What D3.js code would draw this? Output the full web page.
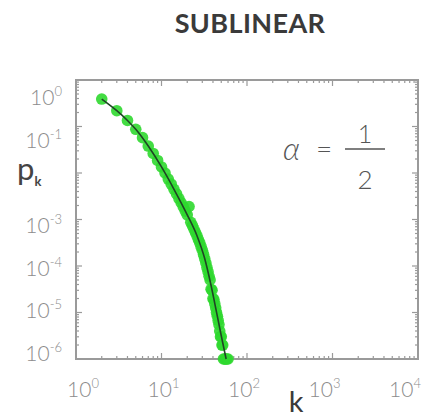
<!DOCTYPE html>
<html>
<head>
<meta charset="utf-8">
<script src="https://cdn.jsdelivr.net/npm/d3@7"></script>
<style>
  body { margin: 0; background: #fff; }
  svg text { font-family: Lato, "DejaVu Sans", sans-serif; }
</style>
</head>
<body>
<div id="chart"></div>
<script>
// degree distribution, sublinear preferential attachment (alpha = 1/2)
const degrees = [2,3,4,5,6,7,8,9,10,11,12,13,14,15,16,17,18,19,20,21,22,23,24,25,26,27,28,29,30,
  31,32,33,34,35,36,37,38,39,40,41,42,43,44,45,46,47,48,49,50,51,52,53,55,56,58,60];
const logProb = [-0.41,-0.66,-0.87,-1.06,-1.24,-1.42,-1.58,-1.73,-1.87,-2.00,-2.13,-2.24,-2.35,-2.45,-2.55,-2.64,
  -2.73,-2.82,-2.90,-2.72,-3.06,-3.13,-3.21,-3.28,-3.35,-3.43,-3.50,-3.58,-3.66,-3.75,-3.84,-3.93,-4.03,-4.12,
  -4.22,-4.30,-4.50,-4.52,-4.70,-4.72,-4.81,-4.90,-5.00,-5.08,-5.17,-5.26,-5.40,-5.52,-5.52,-5.70,-5.70,-6,-6,-6,-6,-6];

// fitted curve
const fitK = [2,3,4,5,7,10,14,20,26,32,38,44,50,57];
const fitLogP = [-0.41,-0.66,-0.87,-1.06,-1.42,-1.87,-2.35,-2.90,-3.35,-3.84,-4.42,-4.99,-5.50,-6.0];

const xDecades = [0,1,2,3,4];
const yDecades = [0,-1,-3,-4,-5,-6];

const W = 425, H = 417;
const svg = d3.select("#chart").append("svg")
  .attr("width", W)
  .attr("height", H);

const x = d3.scaleLog().domain([1, 1e4]).range([76, 418]);
const y = d3.scaleLog().domain([1e-6, 1]).range([359, 80]);
// tick labels in the original sit slightly inside the decades
const xLab = d3.scaleLog().domain([1, 1e4]).range([83, 405]);
const yLab = d3.scaleLog().domain([1e-6, 1]).range([353, 97]);

const frameColor = "#9a9a9a";

// inward ticks on all four sides
function logTicks(lo, hi) {
  let out = [];
  for (let e = lo; e < hi; e++) {
    for (let m = 1; m < 10; m++) out.push({v: m * Math.pow(10, e), major: m === 1});
  }
  out.push({v: Math.pow(10, hi), major: true});
  return out;
}
const xt = logTicks(0, 4), yt = logTicks(-6, 0);

const tickG = svg.append("g").attr("stroke", frameColor).attr("stroke-width", 1.2);
xt.forEach(t => {
  let len = t.major ? 6 : 3;
  tickG.append("line").attr("x1", x(t.v)).attr("x2", x(t.v)).attr("y1", 359).attr("y2", 359 - len);
  tickG.append("line").attr("x1", x(t.v)).attr("x2", x(t.v)).attr("y1", 80).attr("y2", 80 + len);
});
yt.forEach(t => {
  let len = t.major ? 6 : 3;
  tickG.append("line").attr("y1", y(t.v)).attr("y2", y(t.v)).attr("x1", 76).attr("x2", 76 + len);
  tickG.append("line").attr("y1", y(t.v)).attr("y2", y(t.v)).attr("x1", 418).attr("x2", 418 - len);
});

svg.append("rect")
  .attr("x", 76).attr("y", 80)
  .attr("width", 342).attr("height", 279)
  .attr("fill", "none")
  .attr("stroke", frameColor)
  .attr("stroke-width", 2);

// data points
svg.append("g").selectAll("circle")
  .data(degrees.map((k, i) => ({k: k, p: Math.pow(10, logProb[i])})))
  .join("circle")
  .attr("cx", d => x(d.k))
  .attr("cy", d => y(d.p))
  .attr("r", 5.8)
  .attr("fill", "#2fd82f")
  .attr("opacity", 0.9);

// fit line
const line = d3.line()
  .x(d => x(d.k))
  .y(d => y(d.p))
  .curve(d3.curveMonotoneX);
svg.append("path")
  .datum(fitK.map((k, i) => ({k: k, p: Math.pow(10, fitLogP[i])})))
  .attr("d", line)
  .attr("fill", "none")
  .attr("stroke", "#1f4424")
  .attr("stroke-width", 1.6);

// tick labels
const labColor = "#8c8c8c";
xDecades.forEach(e => {
  let t = svg.append("text")
    .attr("x", xLab(Math.pow(10, e)))
    .attr("y", 397)
    .attr("text-anchor", "middle")
    .attr("fill", labColor)
    .attr("font-size", 21)
    .attr("font-weight", 300);
  t.append("tspan").text("10");
  t.append("tspan").attr("dy", -9).attr("font-size", 13).text(e);
});
yDecades.forEach(e => {
  let t = svg.append("text")
    .attr("x", 62)
    .attr("y", yLab(Math.pow(10, e)) + 8)
    .attr("text-anchor", "end")
    .attr("fill", labColor)
    .attr("font-size", 21)
    .attr("font-weight", 300);
  t.append("tspan").text("10");
  t.append("tspan").attr("dy", -9).attr("font-size", 13).text(e === 0 ? "0" : "-" + Math.abs(e));
});

// axis titles
let pk = svg.append("text")
  .attr("x", 17).attr("y", 180)
  .attr("fill", "#444")
  .attr("font-size", 31);
pk.append("tspan").text("p");
pk.append("tspan").attr("dy", 6).attr("font-size", 13).attr("font-weight", 700).text("k");

svg.append("text")
  .attr("x", 296).attr("y", 412)
  .attr("text-anchor", "middle")
  .attr("fill", "#3a3a3a")
  .attr("font-size", 29)
  .text("k");

// title
svg.append("text")
  .attr("x", 250).attr("y", 33)
  .attr("text-anchor", "middle")
  .attr("fill", "#3a3a3a")
  .attr("font-size", 27)
  .attr("font-weight", 700)
  .attr("letter-spacing", 0.4)
  .text("SUBLINEAR");

// alpha = 1/2
const ann = svg.append("g").attr("fill", "#555");
ann.append("text")
  .attr("x", 283).attr("y", 160)
  .attr("font-size", 31)
  .attr("font-style", "italic")
  .attr("font-weight", 300)
  .text("α");
ann.append("text")
  .attr("x", 324).attr("y", 159)
  .attr("text-anchor", "middle")
  .attr("font-size", 28)
  .attr("font-weight", 300)
  .text("=");
ann.append("line")
  .attr("x1", 345).attr("x2", 385)
  .attr("y1", 149).attr("y2", 149)
  .attr("stroke", "#555").attr("stroke-width", 1.3);
ann.append("text")
  .attr("x", 365).attr("y", 143)
  .attr("text-anchor", "middle")
  .attr("font-size", 25)
  .attr("font-weight", 300)
  .text("1");
ann.append("text")
  .attr("x", 365).attr("y", 189)
  .attr("text-anchor", "middle")
  .attr("font-size", 26)
  .attr("font-weight", 300)
  .text("2");
</script>
</body>
</html>
